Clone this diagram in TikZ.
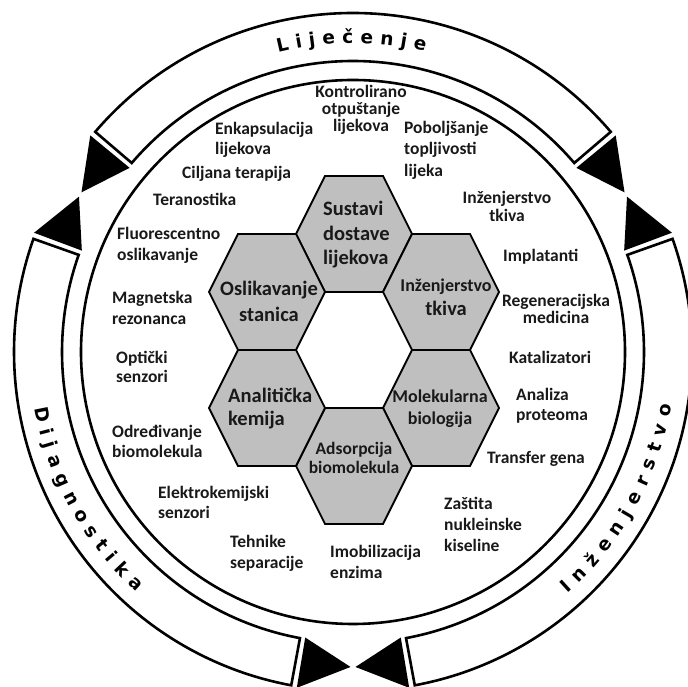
\documentclass[tikz,border=0pt]{standalone}
\usepackage{fontspec}
\setmainfont{Carlito}
\newfontfamily\bandfont{DejaVu Sans}
\usetikzlibrary{decorations.text}
\definecolor{hexgray}{RGB}{191,191,191}
\definecolor{txt}{RGB}{25,25,25}
\tikzset{
  ring/.style={draw=black, line width=2.6pt},
  band/.style={draw=black, fill=white, line width=2.6pt, line join=miter},
  tri/.style={fill=black},
  hexa/.style={draw=black, fill=hexgray, line width=1.8pt, line join=miter},
  lbl/.style={inner sep=0pt, text=txt, font=\bfseries\fontsize{17.5}{20}\selectfont},
  hexbig/.style={inner sep=0pt, text=txt, font=\bfseries\fontsize{20.5}{24}\selectfont},
  hexsmall/.style={inner sep=0pt, text=txt, font=\bfseries\fontsize{18}{20}\selectfont},
  bandtext/.style={decorate, decoration={text along path, text align={fit to path},
     text={|\bandfont\bfseries\fontsize{18.5}{20}\selectfont|#1}}},
}
\newcommand\hexat[1]{\draw[hexa] (#1) ++(58,0) -- ++(-29,58) -- ++(-58,0) -- ++(-29,-58) -- ++(29,-58) -- ++(58,0) -- cycle;}
\begin{document}
\begin{tikzpicture}[x=1pt,y=1pt]
\useasboundingbox (0,0) rectangle (688,687);
\clip (0,0) rectangle (688,687);
\fill[white] (0,0) rectangle (688,687);
\coordinate (C) at (353,335);
\begin{scope}[shift={(C)}]
  \draw[ring] (0,0) circle[radius=272pt];
  \draw[band] (40.5:339pt) arc[start angle=40.5,end angle=139.5,radius=339pt]
     -- (139.5:291pt) arc[start angle=139.5,end angle=40.5,radius=291pt] -- cycle;
  \draw[band] (160.5:339pt) arc[start angle=160.5,end angle=259.5,radius=339pt]
     -- (259.5:291pt) arc[start angle=259.5,end angle=160.5,radius=291pt] -- cycle;
  \draw[band] (280.5:339pt) arc[start angle=280.5,end angle=379.5,radius=339pt]
     -- (379.5:291pt) arc[start angle=379.5,end angle=280.5,radius=291pt] -- cycle;
  \foreach \J in {30,150,270}{
    \foreach \s in {-1,1}{
      \fill[tri] ({\J+\s*9.5}:289.5pt) -- ({\J+\s*9.5}:340.5pt) -- ({\J+\s*0.45}:315pt) -- cycle;
    }
  }
  \path[bandtext={Liječenje}] (104:309pt) arc[start angle=104,end angle=76.5,radius=309pt];
  \path[bandtext={Dijagnostika}] (190:323pt) arc[start angle=190,end angle=228,radius=323pt];
  \path[bandtext={Inženjerstvo}] (311.5:323pt) arc[start angle=311.5,end angle=350.5,radius=323pt];
\end{scope}
% hexagons
\coordinate (hS) at (354,453);
\coordinate (hI) at (441,395);
\coordinate (hM) at (441,279);
\coordinate (hA) at (354,221);
\coordinate (hK) at (267,279);
\coordinate (hO) at (267,395);
\hexat{hS}\hexat{hI}\hexat{hM}\hexat{hA}\hexat{hK}\hexat{hO}
\node[hexbig, anchor=west, align=left, font=\bfseries\fontsize{20.5}{24.5}\selectfont] (tS) at (323,452) {Sustavi\\dostave\\lijekova};
\node[hexbig, align=center, font=\bfseries\fontsize{20.5}{26.5}\selectfont] (tO) at (269,385.5) {Oslikavanje\\stanica};
\node[hexbig, align=center] (tI) at (446,390) {{\fontsize{18}{24}\selectfont Inženjerstvo}\\tkiva};
\node[hexbig, anchor=west, align=left, font=\bfseries\fontsize{20.5}{23}\selectfont] (tK) at (228,278.5) {Analitička\\kemija};
\node[hexsmall, align=center, font=\bfseries\fontsize{18}{22}\selectfont] (tM) at (440,278) {Molekularna\\biologija};
\node[hexsmall, align=center, font=\bfseries\fontsize{17.5}{19}\selectfont] (tA) at (354,229.5) {Adsorpcija\\biomolekula};
% outer labels
\node[lbl, align=center, font=\bfseries\fontsize{17.5}{17}\selectfont] (l1) at (361,577) {Kontrolirano\\otpuštanje\\lijekova};
\node[lbl, anchor=west, align=left] (l2) at (215,547) {Enkapsulacija\\lijekova};
\node[lbl, anchor=west] (l3) at (182,513) {Ciljana terapija};
\node[lbl, anchor=west] (l4) at (153,488) {Teranostika};
\node[lbl, anchor=west, align=left, font=\bfseries\fontsize{17.5}{21}\selectfont] (l5) at (117,441.5) {Fluorescentno\\oslikavanje};
\node[lbl, anchor=west, align=left, font=\bfseries\fontsize{17.5}{21}\selectfont] (l6) at (112,379) {Magnetska\\rezonanca};
\node[lbl, anchor=west, align=left, font=\bfseries\fontsize{17.5}{19}\selectfont] (l7) at (116,320.5) {Optički\\senzori};
\node[lbl, anchor=west, align=left] (l8) at (112,246) {Određivanje\\biomolekula};
\node[lbl, anchor=west, align=left] (l9) at (158,185) {Elektrokemijski\\senzori};
\node[lbl, anchor=west, align=left, font=\bfseries\fontsize{17.5}{21}\selectfont] (l10) at (230,133.5) {Tehnike\\separacije};
\node[lbl, anchor=west, align=left, font=\bfseries\fontsize{17.5}{21}\selectfont] (l11) at (330,125.5) {Imobilizacija\\enzima};
\node[lbl, anchor=west, align=left, font=\bfseries\fontsize{17.5}{21}\selectfont] (l12) at (444,163) {Zaštita\\nukleinske\\kiseline};
\node[lbl, anchor=west] (l13) at (487,228) {Transfer gena};
\node[lbl, anchor=west, align=left] (l14) at (516,281) {Analiza\\proteoma};
\node[lbl, anchor=west] (l15) at (509,330) {Katalizatori};
\node[lbl, align=center, font=\bfseries\fontsize{17.5}{16.5}\selectfont] (l16) at (556,378) {Regeneracijska\\medicina};
\node[lbl, anchor=west] (l17) at (503,430) {Implatanti};
\node[lbl, align=center, font=\bfseries\fontsize{17.5}{18}\selectfont] (l18) at (507,481) {Inženjerstvo\\tkiva};
\node[lbl, anchor=west, align=left, font=\bfseries\fontsize{17.5}{21.5}\selectfont] (l19) at (404,537) {Poboljšanje\\topljivosti\\lijeka};
\end{tikzpicture}
\end{document}
